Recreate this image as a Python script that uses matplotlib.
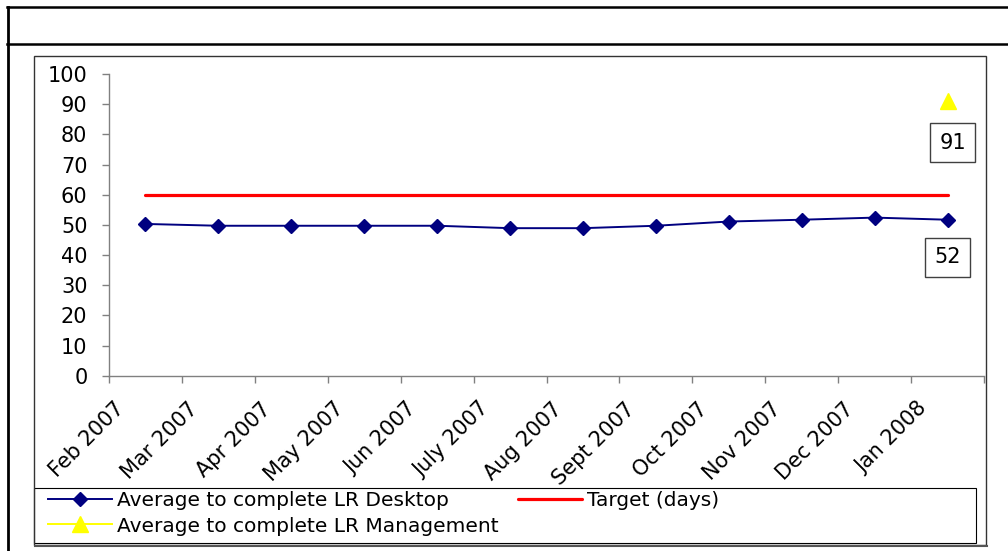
import numpy as np
import matplotlib
matplotlib.use("Agg")
import matplotlib.pyplot as plt
from matplotlib.lines import Line2D
from matplotlib.patches import Rectangle
from matplotlib.transforms import ScaledTranslation

# chart data
months = ['Feb 2007', 'Mar 2007', 'Apr 2007', 'May 2007', 'Jun 2007', 'July 2007',
          'Aug 2007', 'Sept 2007', 'Oct 2007', 'Nov 2007', 'Dec 2007', 'Jan 2008']
desktop = [50.3, 49.7, 49.7, 49.7, 49.7, 48.9, 48.9, 49.7, 51.1, 51.7, 52.4, 51.7]
target = [60] * 12
management = [np.nan] * 11 + [91]
y_ticks = [0, 10, 20, 30, 40, 50, 60, 70, 80, 90, 100]

W, H = 1008, 551
fig = plt.figure(figsize=(W / 100, H / 100), dpi=100)
plt.rcParams['font.family'] = ['DejaVu Sans']

# plot area placed in pixels
x0, x1, y0, y1 = 109, 984, 375.7, 74
ax = fig.add_axes([x0 / W, 1 - y0 / H, (x1 - x0) / W, (y0 - y1) / H])

x = np.arange(len(months))
l_desk, = ax.plot(x, desktop, color='#000080', lw=1.4, marker='D', ms=6.8,
                  label='Average to complete LR Desktop', zorder=3)
l_tgt, = ax.plot(x, target, color='#FF0000', lw=2.3, solid_capstyle='round',
                 label='Target (days)', zorder=2)
l_mgmt, = ax.plot(x, management, color='#FFFF00', lw=1.4, marker='^', ms=11,
                  label='Average to complete LR Management', zorder=3)

ax.set_xlim(-0.5, len(months) - 0.5)
ax.set_ylim(0, 100)
ax.set_yticks(y_ticks)
ax.set_xticks(np.arange(-0.5, len(months) + 0.5, 1))
ax.set_xticklabels([])
ax.tick_params(axis='y', labelsize=15, length=5, width=1, color='#808080', pad=10.5)
ax.tick_params(axis='x', length=5, width=1, color='#808080')
for s in ['top', 'right']:
    ax.spines[s].set_visible(False)
for s in ['left', 'bottom']:
    ax.spines[s].set_color('#808080')
    ax.spines[s].set_linewidth(1)

# rotated category labels
off = ScaledTranslation(-31 / 100, -23 / 100, fig.dpi_scale_trans)
for i, m in enumerate(months):
    ax.text(i, 0, m, transform=ax.get_xaxis_transform() + off, rotation=45,
            rotation_mode='anchor', ha='right', va='top', fontsize=15)

# data labels on the last points
box = dict(boxstyle='square,pad=0.45', fc='white', ec='#404040', lw=1)
ax.annotate(f"{management[-1]:.0f}", (x[-1], management[-1]), xytext=(3.6, -30),
            textcoords='offset points', ha='center', va='center', fontsize=15, bbox=box)
ax.annotate(f"{desktop[-1]:.0f}", (x[-1], desktop[-1]), xytext=(0, -27),
            textcoords='offset points', ha='center', va='center', fontsize=15, bbox=box)

# legend: entries without frame, box drawn separately
fig.legend([l_desk, l_mgmt, l_tgt],
           [l_desk.get_label(), l_mgmt.get_label(), l_tgt.get_label()],
           ncol=2, frameon=False, loc='upper left', fontsize=14.5,
           bbox_to_anchor=(48 / W, 1 - 491.5 / H), borderaxespad=0, borderpad=0,
           handlelength=3.18, handletextpad=0.25, columnspacing=0.95, labelspacing=0.3)


def px_rect(xa, ya, xb, yb, **kw):
    fig.patches.append(Rectangle((xa / W, 1 - yb / H), (xb - xa) / W, (yb - ya) / H,
                                 transform=fig.transFigure, fill=False, **kw))


def px_line(xs, ys, **kw):
    fig.add_artist(Line2D([v / W for v in xs], [1 - v / H for v in ys],
                          transform=fig.transFigure, **kw))


px_rect(34, 488, 976, 543, ec='black', lw=0.8)      # legend box
px_rect(34, 56, 986, 544.5, ec='#333333', lw=1)     # chart area
px_line([35, 987], [545.5, 545.5], color='#555555', lw=1.5)
# outer table frame
px_line([8, 8], [6.5, 551], color='black', lw=2)
px_line([7, 1008], [6.5, 6.5], color='black', lw=1.8)
px_line([7, 1008], [44.3, 44.3], color='black', lw=1.8)

fig.savefig('out.png', dpi=100)
